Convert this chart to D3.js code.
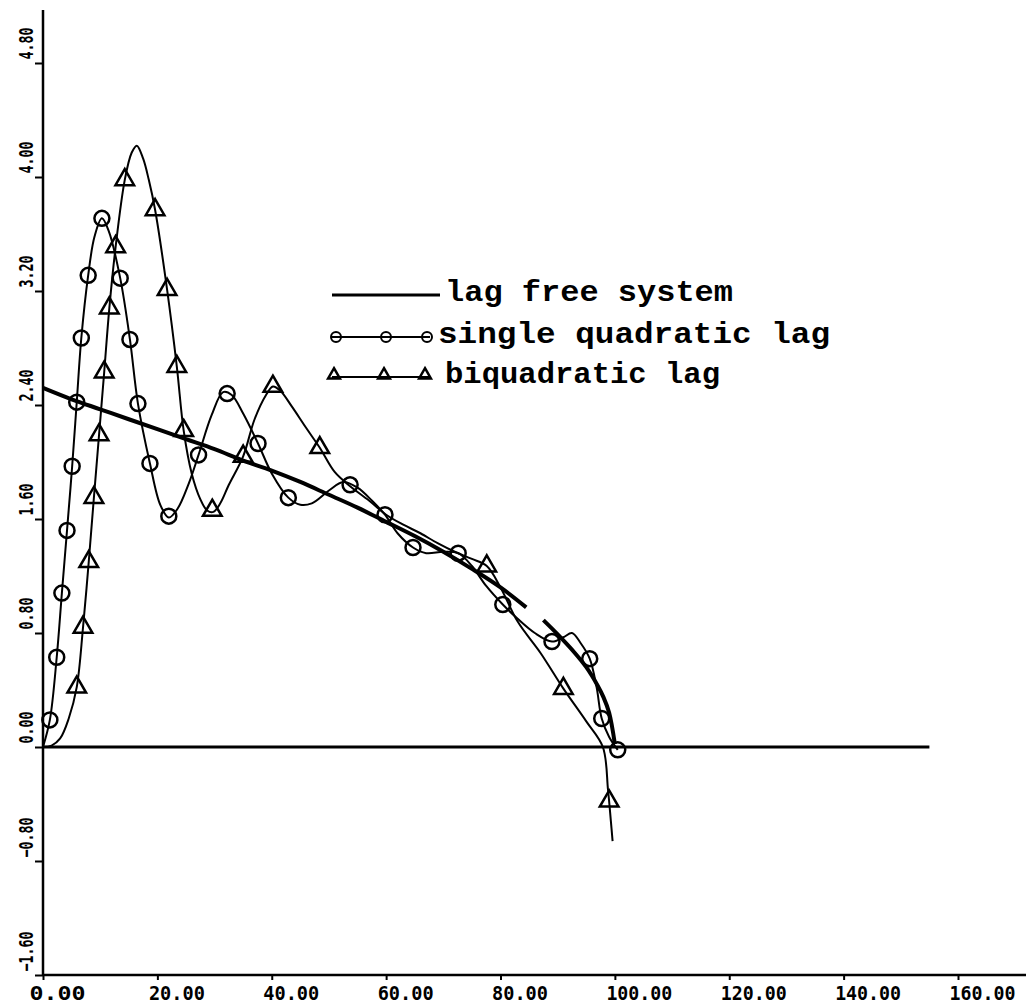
<!DOCTYPE html>
<html>
<head>
<meta charset="utf-8">
<script src="https://cdn.jsdelivr.net/npm/d3@7"></script>
<style>
  html, body { margin: 0; padding: 0; background: #fff; }
  svg { display: block; }
  .tick text { font-family: 'DejaVu Sans Mono', monospace; font-weight: bold; font-size: 20px; fill: #000; }
  .legend text { font-family: 'Liberation Mono', 'Courier New', monospace; font-weight: bold; font-size: 29px; fill: #000; }
</style>
</head>
<body>
<svg id="chart" width="1026" height="1005"></svg>
<script>
// tick values
const xTicks = [0, 20, 40, 60, 80, 100, 120, 140, 160]
const yTicks = [-1.6, -0.8, 0, 0.8, 1.6, 2.4, 3.2, 4.0, 4.8]

// lag free system (null = gap in the trace)
const lagFree = [
  [0, 2.52], [5, 2.44], [10, 2.37], [15, 2.30], [20, 2.23], [25, 2.16], [30, 2.09],
  [35, 2.01], [40, 1.94], [45, 1.86], [50, 1.77], [55, 1.68], [60, 1.58], [65, 1.48],
  [70, 1.37], [75, 1.25], [80, 1.12], [84.5, 0.98], [86, null], [87.5, 0.89], [90, 0.79],
  [93, 0.66], [95, 0.56], [97, 0.43], [98, 0.35], [99, 0.24], [100, 0.02]
]
const baseline = [[0, 0], [155, 0]]

// single quadratic lag
const singleQuad = [
  [0, 0], [1.2, 0.19], [2.4, 0.63], [3.3, 1.08], [4.2, 1.52], [5.1, 1.97], [5.9, 2.42],
  [6.7, 2.87], [7.9, 3.31], [9.0, 3.58], [10.3, 3.71], [11.5, 3.62], [13.5, 3.29],
  [15.2, 2.86], [16.6, 2.41], [18.7, 1.99], [20.5, 1.70], [22.0, 1.61], [23.5, 1.67],
  [25.5, 1.85], [27.2, 2.05], [29.5, 2.33], [31.5, 2.49], [33, 2.47], [35, 2.34],
  [37.6, 2.13], [40, 1.92], [42.9, 1.75], [45, 1.70], [47, 1.71], [50, 1.80],
  [52.5, 1.86], [55, 1.82], [57.5, 1.73], [59.8, 1.63], [62, 1.50], [64.7, 1.40],
  [67, 1.36], [70, 1.37], [72.6, 1.36], [75, 1.27], [77.5, 1.13], [80.4, 1.00],
  [83, 0.90], [86, 0.80], [89, 0.74], [91, 0.77], [92.5, 0.80], [94, 0.73],
  [95.6, 0.62], [96.8, 0.42], [97.7, 0.20], [99, 0.07], [100.5, -0.02]
]
const singleMarks = [
  [1.2, 0.19], [2.4, 0.63], [3.3, 1.08], [4.2, 1.52], [5.1, 1.97], [5.9, 2.42],
  [6.7, 2.87], [7.9, 3.31], [10.3, 3.71], [13.5, 3.29], [15.2, 2.86], [16.6, 2.41],
  [18.7, 1.99], [22.0, 1.62], [27.2, 2.05], [32.2, 2.48], [37.6, 2.13], [42.9, 1.75],
  [53.7, 1.84], [59.8, 1.63], [64.7, 1.40], [72.6, 1.36], [80.4, 1.00], [89, 0.74],
  [95.6, 0.62], [97.7, 0.20], [100.5, -0.02]
]

// biquadratic lag
const biQuad = [
  [0, 0], [1.5, 0.01], [3, 0.06], [4.5, 0.20], [5.9, 0.42], [7.0, 0.84], [8.0, 1.30],
  [8.9, 1.75], [9.8, 2.19], [10.7, 2.63], [11.6, 3.08], [12.7, 3.51], [14.3, 3.98],
  [15.5, 4.17], [16.4, 4.22], [17.5, 4.13], [18.5, 3.98], [19.6, 3.77], [21.7, 3.21],
  [23.4, 2.67], [24.6, 2.22], [26, 1.92], [27.5, 1.74], [28.7, 1.66], [29.8, 1.65],
  [31, 1.71], [32.5, 1.84], [35, 2.04], [37, 2.30], [39, 2.47], [40.2, 2.53],
  [41.5, 2.50], [43.5, 2.39], [46, 2.24], [48.4, 2.10], [51, 1.93], [53.7, 1.83],
  [57, 1.73], [60, 1.63], [63, 1.56], [66, 1.50], [69, 1.43], [72, 1.37], [75, 1.32],
  [77.6, 1.27], [80, 1.12], [83, 0.88], [87, 0.66], [91, 0.41], [95, 0.18],
  [97.9, 0.0], [98.8, -0.30], [99.3, -0.52], [99.6, -0.66]
]
const biMarks = [
  [5.9, 0.42], [7.0, 0.84], [8.0, 1.30], [8.9, 1.75], [9.8, 2.19], [10.7, 2.63],
  [11.6, 3.08], [12.7, 3.51], [14.3, 3.98], [19.6, 3.77], [21.7, 3.21], [23.4, 2.67],
  [24.6, 2.22], [29.6, 1.66], [35, 2.04], [40.2, 2.53], [48.4, 2.10], [77.6, 1.27],
  [91, 0.41], [99.0, -0.38]
]

const legendItems = ['lag free system', 'single quadratic lag', 'biquadratic lag']

const svg = d3.select('#chart')
const x = d3.scaleLinear().domain([0, 160]).range([43, 958])
const y = d3.scaleLinear().domain([-1.6, 4.8]).range([975, 63])
const fmt = d3.format('.2f')

// axes
const xAxis = svg.append('g')
  .attr('transform', 'translate(0,975)')
  .call(d3.axisBottom(x).tickValues(xTicks).tickFormat(fmt).tickSize(5).tickSizeOuter(0))
xAxis.select('.domain').remove()
xAxis.selectAll('line').attr('stroke', '#000').attr('stroke-width', 2)
xAxis.selectAll('text')
  .attr('text-anchor', 'start')
  .attr('x', (d) => d === 0 ? -14 : -9)
  .attr('y', 25)
  .attr('dy', 0)
  .attr('textLength', (d) => fmt(d).length > 5 ? 66 : 56)
  .attr('lengthAdjust', 'spacingAndGlyphs')

const yAxis = svg.append('g')
  .attr('transform', 'translate(43,0)')
  .call(d3.axisLeft(y).tickValues(yTicks).tickFormat(fmt).tickSize(8).tickSizeOuter(0))
yAxis.select('.domain').remove()
yAxis.selectAll('line').attr('stroke', '#000').attr('stroke-width', 2)
yAxis.selectAll('text')
  .attr('text-anchor', 'start')
  .attr('x', 0)
  .attr('y', 0)
  .attr('dy', 0)
  .attr('transform', 'translate(-10,-4) rotate(-90)')
  .attr('textLength', (d) => d < 0 ? 40 : 32)
  .attr('lengthAdjust', 'spacingAndGlyphs')

svg.append('line')
  .attr('x1', x(0)).attr('x2', 1026).attr('y1', y(-1.6)).attr('y2', y(-1.6))
  .attr('stroke', '#000').attr('stroke-width', 2.5)
svg.append('line')
  .attr('x1', x(0)).attr('x2', x(0)).attr('y1', 10).attr('y2', y(-1.6))
  .attr('stroke', '#000').attr('stroke-width', 2.5)

// curves
const line = d3.line()
  .defined((d) => d[1] !== null)
  .x((d) => x(d[0]))
  .y((d) => y(d[1]))
  .curve(d3.curveCatmullRom)

svg.append('path').datum(baseline)
  .attr('d', line).attr('fill', 'none').attr('stroke', '#000').attr('stroke-width', 3)
svg.append('path').datum(singleQuad)
  .attr('d', line).attr('fill', 'none').attr('stroke', '#000').attr('stroke-width', 2)
svg.append('path').datum(biQuad)
  .attr('d', line).attr('fill', 'none').attr('stroke', '#000').attr('stroke-width', 2)
svg.append('path').datum(lagFree)
  .attr('d', line).attr('fill', 'none').attr('stroke', '#000').attr('stroke-width', 4)

// markers
svg.append('g').selectAll('circle')
  .data(singleMarks)
  .join('circle')
  .attr('cx', (d) => x(d[0]))
  .attr('cy', (d) => y(d[1]))
  .attr('r', 7.5)
  .attr('fill', 'none')
  .attr('stroke', '#000')
  .attr('stroke-width', 2.5)

const tri = d3.symbol().type(d3.symbolTriangle).size(150)
svg.append('g').selectAll('path')
  .data(biMarks)
  .join('path')
  .attr('d', tri)
  .attr('transform', (d) => 'translate(' + x(d[0]) + ',' + y(d[1]) + ')')
  .attr('fill', 'none')
  .attr('stroke', '#000')
  .attr('stroke-width', 2.5)

// legend
const legend = svg.append('g').attr('class', 'legend')
const rowY = [295, 337, 377]
const textX = [445, 438, 445]
const textLen = [288, 392, 275]
legendItems.forEach((label, i) => {
  legend.append('line')
    .attr('x1', 332).attr('x2', i === 0 ? 440 : 430)
    .attr('y1', rowY[i]).attr('y2', rowY[i])
    .attr('stroke', '#000').attr('stroke-width', i === 0 ? 3 : 2)
  legend.append('text')
    .attr('x', textX[i])
    .attr('y', rowY[i] + 6)
    .attr('textLength', textLen[i])
    .attr('lengthAdjust', 'spacingAndGlyphs')
    .text(label)
})
const legendMarkX = [336, 386, 427]
legend.selectAll('circle')
  .data(legendMarkX)
  .join('circle')
  .attr('cx', (d) => d).attr('cy', rowY[1])
  .attr('r', 5).attr('fill', 'none').attr('stroke', '#000').attr('stroke-width', 2)
legend.selectAll('path.tri')
  .data(legendMarkX)
  .join('path')
  .attr('class', 'tri')
  .attr('d', d3.symbol().type(d3.symbolTriangle).size(60))
  .attr('transform', (d) => 'translate(' + (d - 2) + ',' + (rowY[2] - 2) + ')')
  .attr('fill', 'none').attr('stroke', '#000').attr('stroke-width', 2.5)
</script>
</body>
</html>
